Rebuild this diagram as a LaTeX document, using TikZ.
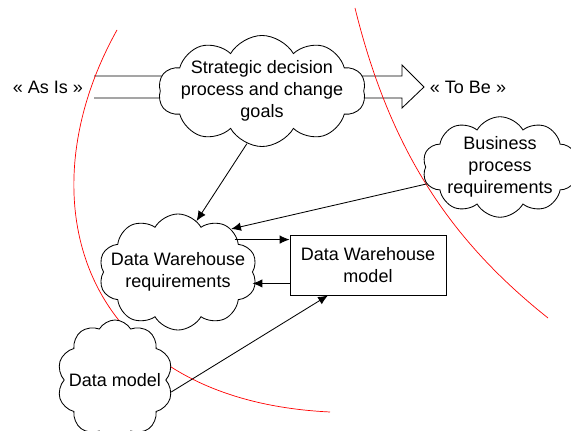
\documentclass[tikz,border=0pt]{standalone}
\usepackage{fontspec}
\setmainfont{Liberation Sans}
\usetikzlibrary{shapes.symbols,arrows.meta,calc}

\tikzset{
  nube/.style={cloud, cloud puffs=10, cloud puff arc=120, cloud ignores aspect,
    draw=black, fill=white, align=center, inner sep=0pt},
  caja/.style={draw=black, fill=white, align=center, inner sep=0pt},
  flecha/.style={-{Latex[length=7pt,width=6pt]}},
  frontera/.style={red, line width=0.5pt},
}

\begin{document}
\begin{tikzpicture}[x=0.025cm, y=-0.025cm, line width=0.6pt,
  font=\fontsize{12.8}{15.6}\selectfont]
\useasboundingbox (0,0) rectangle (571,431);

% --- flecha grande entre los dos estados ---
\node (asis) at (48,87) {« As Is »};
\node (tobe) at (468,87) {« To Be »};
\filldraw[fill=white] (94,76) -- (402,76) -- (402,65) -- (424,87)
  -- (402,108) -- (402,98) -- (94,98);

% fronteras (en rojo)
\draw[frontera] (117,30) .. controls (22,200) and (80,400) .. (330,412);
\draw[frontera] (355,8) .. controls (390,150) and (450,240) .. (548,318);

% --- nubes ---
\node[nube, inner xsep=-6.5pt, inner ysep=-1.8pt] (strat) at (262,91)
  {Strategic decision\\process and change\\goals};
\node[nube, inner xsep=0pt, inner ysep=-2pt] (bpr) at (500,167)
  {Business\\process\\requirements};
\node[nube, inner xsep=-8.5pt, minimum height=2.9cm] (dwreq) at (178,272)
  {Data Warehouse\\requirements};
\node[nube, inner xsep=-3pt, minimum height=3cm] (dm) at (115,380)
  {Data model};

% modelo (caja)
\node[caja, minimum width=3.9cm, minimum height=1.5cm] (dwmod) at (368,265)
  {Data Warehouse\\model};

% flechas entre elementos
\draw[flecha] (strat.254) -- (dwreq.70);
\draw[flecha] (bpr.193) -- (dwreq.39);
\draw[flecha] ($(dwmod.north west)+(-55,5)$) -- ($(dwmod.north west)+(0,5)$);
\draw[flecha] ($(dwmod.south west)+(0,-12)$) -- ++(-37,0);
\draw[flecha] (dm.348) -- ($(dwmod.south)+(-40,0)$);

\end{tikzpicture}
\end{document}
